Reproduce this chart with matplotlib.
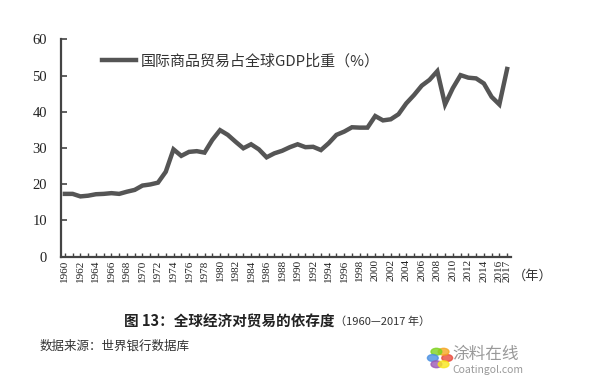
import matplotlib
matplotlib.use("Agg")
import matplotlib.pyplot as plt
import matplotlib.transforms as mtransforms
import numpy as np

plt.rcParams['font.family'] = ['Noto Sans CJK SC', 'DejaVu Sans']

years = list(range(1960, 2018))
share = [17.3, 17.3, 16.6, 16.8, 17.2, 17.3, 17.5, 17.3, 17.9, 18.4,
         19.6, 19.9, 20.4, 23.4, 29.6, 27.8, 28.9, 29.1, 28.7, 32.2,
         34.9, 33.6, 31.7, 29.9, 31.0, 29.6, 27.4, 28.5, 29.2, 30.2,
         31.0, 30.2, 30.3, 29.4, 31.3, 33.6, 34.5, 35.7, 35.6, 35.6,
         38.8, 37.6, 37.9, 39.3, 42.3, 44.6, 47.2, 48.8, 51.2, 42.0,
         46.5, 50.1, 49.4, 49.2, 47.8, 44.1, 42.0, 51.8]
tick_years = list(range(1960, 2017, 2)) + [2017]
legend_label = "国际商品贸易占全球GDP比重（%）"
caption_bold = "图 13：全球经济对贸易的依存度"
caption_tail = "（1960—2017 年）"
source = "数据来源：世界银行数据库"

fig = plt.figure(figsize=(6, 3.81), dpi=100)
ax = fig.add_axes([61/600, 1-256.5/381, 450/600, (256.5-39.3)/381])

ax.plot(years, share, color='#555555', lw=3.2, solid_joinstyle='miter',
        label=legend_label)
ax.set_xlim(1959.5, 2017.5)
ax.set_ylim(0, 60)
ax.set_yticks(range(0, 61, 10))
ax.set_xticks(years, minor=True)
ax.set_xticks(tick_years)
ax.set_xticklabels([str(y) for y in tick_years], rotation=90,
                   family=['Liberation Serif'], fontsize=8.0)
xl = ax.get_xticklabels()
xl[-2].set_transform(xl[-2].get_transform() +
                     mtransforms.ScaledTranslation(-1.6/100, 0, fig.dpi_scale_trans))
xl[-1].set_transform(xl[-1].get_transform() +
                     mtransforms.ScaledTranslation(1.6/100, 0, fig.dpi_scale_trans))
for lbl in ax.get_yticklabels():
    lbl.set_family(['Liberation Serif'])
    lbl.set_fontsize(10.5)
for s in ['top', 'right']:
    ax.spines[s].set_visible(False)
for s in ['left', 'bottom']:
    ax.spines[s].set_color('#444444')
    ax.spines[s].set_linewidth(1.6)
ax.tick_params(axis='y', direction='in', length=4, width=1.2, color='#444444',
               pad=10, labelcolor='#222222')
ax.tick_params(axis='x', which='both', direction='in', length=3, width=1.0,
               color='#444444', pad=2, labelcolor='#222222')

leg = ax.legend(loc='upper left', bbox_to_anchor=(0.06, 0.995), frameon=False,
                handlelength=2.3, handletextpad=0.35, fontsize=10.8)
for t in leg.get_texts():
    t.set_color('#333333')

fig.text(533/600, 1-276/381, "（年）", fontsize=9.5, color='#333333',
         ha='center', va='center')

fig.text(335/600, 1-322/381, caption_bold, fontsize=10.5,
         fontweight='bold', color='#222222', ha='right', va='center')
fig.text(335/600, 1-322/381, caption_tail, fontsize=8, color='#333333',
         ha='left', va='center')
fig.text(40/600, 1-346/381, source, fontsize=9, color='#333333',
         ha='left', va='center')

# watermark
fig.text(452/600, 1-354/381, "涂料在线", fontsize=12, color='#999999',
         ha='left', va='center')
fig.text(452/600, 1-370/381, "Coatingol.com", fontsize=7.5, color='#999999',
         ha='left', va='center')
cols = ['#e94b3c', '#f5a623', '#7ed321', '#4a90e2', '#9b59b6', '#f8e71c']
for i, c in enumerate(cols):
    a = i * np.pi / 3
    fig.patches.append(matplotlib.patches.Ellipse(
        (440/600 + 0.012*np.cos(a), 1-358/381 + 0.019*np.sin(a)), 0.018, 0.018,
        transform=fig.transFigure, color=c, alpha=0.8))

fig.savefig("out.png", dpi=100)
